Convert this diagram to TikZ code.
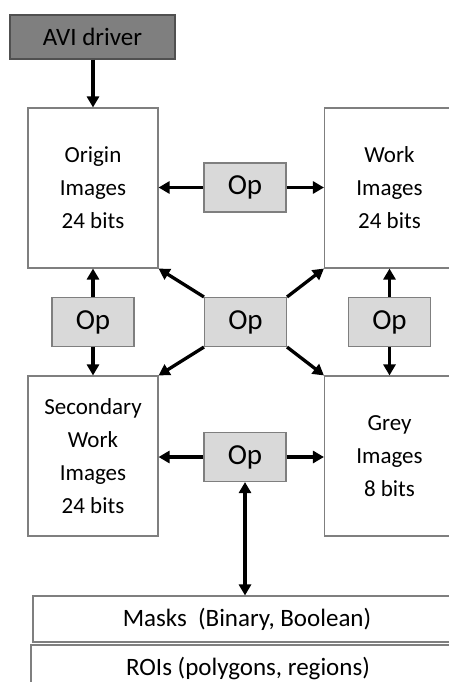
\documentclass[tikz,border=0pt]{standalone}
\usepackage{fontspec}
\setmainfont{Carlito}
\usetikzlibrary{arrows.meta}
\definecolor{avifill}{HTML}{7F7F7F}
\definecolor{aviborder}{HTML}{505050}
\definecolor{opfill}{HTML}{D9D9D9}
\definecolor{boxborder}{HTML}{7F7F7F}
\begin{document}
\begin{tikzpicture}[x=1pt,y=-1pt,
  imgbox/.style={draw=boxborder,line width=1.1pt,fill=white,minimum width=130pt,minimum height=160pt,
    inner sep=0pt,align=center,font=\fontsize{23}{33}\selectfont},
  opbox/.style={draw=boxborder,line width=1.1pt,fill=opfill,minimum width=82pt,minimum height=49pt,
    inner sep=0pt,font=\fontsize{29}{32}\selectfont},
  avibox/.style={draw=aviborder,line width=1.1pt,fill=avifill,minimum width=165pt,minimum height=44pt,
    inner sep=0pt,font=\fontsize{25}{28}\selectfont},
  bandbox/.style={draw=boxborder,line width=1.1pt,fill=white,minimum height=46pt,inner sep=0pt,
    font=\fontsize{25}{28}\selectfont},
  arr/.style={line width=3.3pt,-{Triangle[length=11pt,width=12pt]}},
  darr/.style={line width=3.3pt,{Triangle[length=11pt,width=12pt]}-{Triangle[length=11pt,width=12pt]}}
]
\useasboundingbox (0,0) rectangle (449,682);
\clip (0,0) rectangle (449,682);
\fill[white] (0,0) rectangle (449,682);

\node[avibox] (avi) at (92.5,37) {AVI driver};
\node[imgbox] (origin) at (93,188) {Origin\\Images\\24 bits};
\node[imgbox] (work) at (389.5,188) {Work\\Images\\24 bits};
\node[imgbox] (sec) at (93,456) {Secondary\\Work\\Images\\24 bits};
\node[imgbox] (grey) at (389.5,456) {Grey\\Images\\8 bits};

\node[opbox] (opT) at (245,187.5) {Op};
\node[opbox] (opL) at (93,322) {Op};
\node[opbox] (opC) at (245.5,322) {Op};
\node[opbox] (opR) at (389.5,322) {Op};
\node[opbox] (opB) at (245,457) {Op};

\node[bandbox,minimum width=428pt] (masks) at (247,619) {Masks\ \ (Binary, Boolean)};
\node[bandbox,minimum width=434pt] (roi) at (248,668) {ROIs (polygons, regions)};

\draw[arr] (avi.south -| origin.north) -- (origin.north);
\draw[arr] (opT.west) -- (opT.west -| origin.east);
\draw[arr] (opT.east) -- (opT.east -| work.west);
\draw[arr] (opL.north) -- (opL.north |- origin.south);
\draw[arr] (opL.south) -- (opL.south |- sec.north);
\draw[arr] (opR.north) -- (opR.north |- work.south);
\draw[arr] (opR.south) -- (opR.south |- grey.north);
\draw[arr] (opC.north west) -- (origin.south east);
\draw[arr] (opC.north east) -- (work.south west);
\draw[arr] (opC.south west) -- (sec.north east);
\draw[arr] (opC.south east) -- (grey.north west);
\draw[arr] (opB.west) -- (opB.west -| sec.east);
\draw[arr] (opB.east) -- (opB.east -| grey.west);
\draw[darr] (opB.south) -- (opB.south |- masks.north);
\end{tikzpicture}
\end{document}
